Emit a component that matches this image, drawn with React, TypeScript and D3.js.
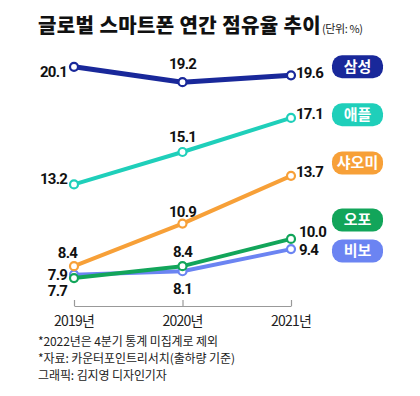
import React, { useEffect, useRef } from 'react';
import * as d3 from 'd3';

const years = ['2019년', '2020년', '2021년'];
const brands = ['삼성', '애플', '샤오미', '오포', '비보'];
const samsung = [20.1, 19.2, 19.6];
const apple = [13.2, 15.1, 17.1];
const xiaomi = [8.4, 10.9, 13.7];
const oppo = [7.7, 8.4, 10.0];
const vivo = [7.9, 8.1, 9.4];
const notes = [
  '*2022년은 4분기 통계 미집계로 제외',
  '*자료: 카운터포인트리서치(출하량 기준)',
  '그래픽: 김지영 디자인기자',
];

const KR = '"Noto Sans CJK KR", "Noto Sans", sans-serif';
const NUM = '"Liberation Sans Narrow", "Roboto", "Noto Sans CJK KR", sans-serif';

const App: React.FC = () => {
  const svgRef = useRef<SVGSVGElement>(null);

  useEffect(() => {
    if (!svgRef.current) return;
    const width = 420;
    const height = 396;

    d3.select(svgRef.current).selectAll('*').remove();
    const svg = d3
      .select(svgRef.current)
      .attr('width', width)
      .attr('height', height)
      .attr('viewBox', [0, 0, width, height].join(' '));

    const x = d3.scalePoint<string>().domain(years).range([74, 291]);
    const y = d3.scaleLinear().domain([7, 21]).range([290, 51.5]);

    // series, in drawing order (bottom first)
    const series = [
      { name: brands[4], values: vivo, color: '#6b84f2', w: 4 },
      { name: brands[3], values: oppo, color: '#12a55a', w: 4 },
      { name: brands[2], values: xiaomi, color: '#f7a038', w: 4 },
      { name: brands[1], values: apple, color: '#1fcfba', w: 4 },
      { name: brands[0], values: samsung, color: '#19289a', w: 5 },
    ];

    /* title */
    svg.append('text')
      .attr('x', 38)
      .attr('y', 33)
      .style('font-family', KR)
      .style('font-weight', 900)
      .style('font-size', '20px')
      .style('letter-spacing', '0.4px')
      .style('fill', '#111')
      .text('글로벌 스마트폰 연간 점유율 추이');
    svg.append('text')
      .attr('x', 322)
      .attr('y', 33)
      .style('font-family', KR)
      .style('font-size', '11px')
      .style('letter-spacing', '-0.4px')
      .style('fill', '#222')
      .text('(단위: %)');

    /* axis */
    const axis = svg.append('g').attr('transform', 'translate(0,306)');
    axis.call(d3.axisBottom(x).tickSize(-6).tickSizeOuter(0).tickFormat(() => ''));
    axis.select('.domain').attr('stroke', '#999').attr('stroke-width', 1.2);
    axis.selectAll('.tick line').attr('stroke', '#999').attr('stroke-width', 1.2);
    axis.selectAll('.tick text').remove();

    svg.append('g')
      .selectAll('text')
      .data(years)
      .join('text')
      .attr('x', d => x(d)!)
      .attr('y', 326)
      .attr('text-anchor', 'middle')
      .style('font-family', KR)
      .style('font-size', '14px')
      .style('letter-spacing', '-0.8px')
      .style('fill', '#222')
      .text(d => d);

    /* lines */
    const line = d3.line<number>()
      .x((_, i) => x(years[i])!)
      .y(d => y(d));

    svg.append('g')
      .attr('fill', 'none')
      .selectAll('g')
      .data(series)
      .join('g')
      .each(function (s) {
        const g = d3.select(this);
        g.append('path')
          .attr('d', line(s.values))
          .attr('stroke', s.color)
          .attr('stroke-width', s.w)
          .attr('stroke-linejoin', 'round');
        g.selectAll('circle')
          .data(s.values)
          .join('circle')
          .attr('cx', (_, i) => x(years[i])!)
          .attr('cy', d => y(d))
          .attr('r', 4)
          .attr('fill', '#fff')
          .attr('stroke', s.color)
          .attr('stroke-width', 2.2);
      });

    /* value labels: [value, year index, anchor, dx, dy] */
    const labels: [number, number, string, number, number][] = [
      [samsung[0], 0, 'end', -7, 5],
      [samsung[1], 1, 'middle', 0, -19],
      [samsung[2], 2, 'start', 5, -3],
      [apple[0], 0, 'end', -7, -6],
      [apple[1], 1, 'middle', 0, -15],
      [apple[2], 2, 'start', 5, -4],
      [xiaomi[0], 0, 'end', 3, -14],
      [xiaomi[1], 1, 'middle', 0, -12],
      [xiaomi[2], 2, 'start', 5, -4],
      [vivo[0], 0, 'end', -7, -0.5],
      [oppo[0], 0, 'end', -7, 13],
      [oppo[1], 1, 'middle', 0, -15],
      [vivo[1], 1, 'middle', 0, 17],
      [oppo[2], 2, 'start', 8, -7],
      [vivo[2], 2, 'start', 8, 0],
    ];
    svg.append('g')
      .selectAll('text')
      .data(labels)
      .join('text')
      .attr('x', d => x(years[d[1]])! + d[3])
      .attr('y', d => y(d[0]) + d[4])
      .attr('dy', '0.36em')
      .attr('text-anchor', d => d[2])
      .style('font-family', NUM)
      .style('font-weight', 700)
      .style('font-size', '15px')
      .style('letter-spacing', '-0.8px')
      .style('fill', '#111')
      .text(d => d[0].toFixed(1));

    /* legend badges */
    const badgeY = [66.7, 114.7, 163, 220, 251];
    const legend = svg.append('g')
      .selectAll('g')
      .data(series.slice().reverse())
      .join('g')
      .attr('transform', (_, i) => `translate(357.5,${badgeY[i]})`);
    legend.append('rect')
      .attr('x', -25.5)
      .attr('y', -11.5)
      .attr('width', 51)
      .attr('height', 23)
      .attr('rx', 10)
      .attr('fill', d => d.color);
    legend.append('text')
      .attr('text-anchor', 'middle')
      .attr('dy', '0.36em')
      .style('font-family', KR)
      .style('font-weight', 700)
      .style('font-size', '15px')
      .style('fill', '#fff')
      .text(d => d.name);

    /* notes */
    svg.append('g')
      .selectAll('text')
      .data(notes)
      .join('text')
      .attr('x', 38)
      .attr('y', (_, i) => 346 + i * 17)
      .style('font-family', KR)
      .style('font-size', '12px')
      .style('letter-spacing', '-0.1px')
      .style('fill', '#222')
      .text(d => d);
  }, []);

  return (
    <svg
      ref={svgRef}
      style={{ position: 'absolute', left: 0, top: 0, background: '#ffffff' }}
    />
  );
};

export default App;
